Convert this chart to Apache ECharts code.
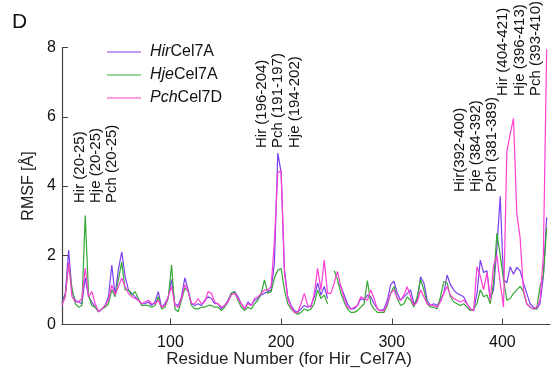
<!DOCTYPE html>
<html><head><meta charset="utf-8">
<script src="https://cdn.jsdelivr.net/npm/echarts@6/dist/echarts.min.js"></script>
<style>html,body{margin:0;padding:0;background:#fff}#c{width:552px;height:373px}</style>
</head><body><div id="c"></div>
<script>
const residues = [2,5,8,11,14,17,20,23,26,29,32,35,38,41,44,47,50,53,56,59,62,65,68,71,74,77,80,83,86,89,92,95,98,101,104,107,110,113,116,119,122,125,128,131,134,137,140,143,146,149,152,155,158,161,164,167,170,173,176,179,182,185,188,191,194,197,200,203,206,209,212,215,218,221,224,227,230,233,236,239,242,245,248,251,254,257,260,263,266,269,272,275,278,281,284,287,290,293,296,299,302,305,308,311,314,317,320,323,326,329,332,335,338,341,344,347,350,353,356,359,362,365,368,371,374,377,380,383,386,389,392,395,398,401,404,407,410,413,416,419,422,425,428,431,434,437,440];

const hirCel7A = [0.65,0.9,2.15,0.95,0.7,0.65,0.6,1.35,0.8,0.65,0.5,0.37,0.45,0.55,0.8,1.72,0.85,1.6,2.1,1.4,1.0,0.9,0.8,0.7,0.6,0.6,0.65,0.55,0.65,0.95,0.5,0.6,0.8,1.3,0.6,0.55,0.8,1.35,1.0,0.6,0.55,0.6,0.55,0.7,0.8,0.75,0.6,0.6,0.45,0.55,0.7,0.9,0.95,0.8,0.6,0.45,0.65,0.55,0.7,0.75,0.85,0.9,0.95,1.0,1.8,4.95,4.4,1.6,0.8,0.55,0.4,0.35,0.45,0.55,0.5,0.55,0.8,1.2,0.85,1.1,0.75,null,null,1.2,1.1,0.85,0.6,0.45,0.45,0.55,0.75,0.7,0.85,0.8,0.6,0.45,0.4,0.45,0.7,1.15,1.25,0.9,0.7,0.8,0.9,1.0,0.6,0.7,1.38,1.2,0.7,0.55,0.6,0.55,0.7,0.9,1.43,1.15,1.0,0.9,0.85,0.8,0.6,0.45,0.4,0.9,1.86,1.5,1.55,0.75,1.0,2.2,3.7,1.3,1.2,1.67,1.45,1.65,1.55,1.2,0.9,0.6,0.5,0.45,0.6,1.4,3.1];

const hjeCel7A = [0.6,0.85,1.75,1.05,0.6,0.5,0.55,3.15,0.85,0.55,0.5,0.37,0.45,0.5,0.6,1.0,0.8,1.3,1.8,1.0,1.0,0.85,0.95,0.75,0.55,0.55,0.55,0.5,0.55,0.8,0.45,0.5,0.75,1.72,0.45,0.37,0.7,1.05,0.95,0.55,0.45,0.45,0.5,0.5,0.55,0.55,0.5,0.5,0.4,0.5,0.65,0.9,0.95,0.7,0.5,0.4,0.5,0.45,0.6,0.7,0.9,1.29,0.9,0.95,1.35,1.57,1.62,1.0,0.6,0.45,0.35,0.3,0.35,0.45,0.4,0.45,0.6,1.0,0.75,0.85,0.6,null,1.55,1.3,0.9,0.65,0.45,0.35,0.35,0.4,0.5,0.6,1.27,0.6,0.45,0.35,0.35,0.35,0.55,0.9,1.1,0.75,0.55,0.6,0.8,0.7,0.5,0.8,1.3,1.0,0.6,0.5,0.5,0.45,0.8,1.24,1.2,0.8,0.65,0.6,0.55,0.6,0.5,0.4,0.45,0.6,1.0,0.8,0.85,0.6,1.2,2.64,2.0,1.3,0.7,0.75,0.9,1.0,1.1,0.95,0.6,0.5,0.45,0.45,1.1,1.4,2.8];

const pchCel7D = [0.55,0.8,1.8,0.8,0.65,0.65,0.75,1.63,0.8,0.95,0.6,0.37,0.45,0.55,0.7,1.14,0.85,1.1,1.34,1.1,0.9,0.8,0.75,0.7,0.6,0.65,0.7,0.6,0.6,0.7,0.5,0.55,0.8,1.1,0.55,0.5,0.75,1.15,0.95,0.6,0.6,0.75,0.6,0.65,0.95,0.9,0.65,0.6,0.5,0.55,0.65,0.85,0.9,0.75,0.6,0.45,0.6,0.55,0.75,0.8,0.9,1.0,1.0,1.1,2.44,4.38,4.45,1.5,0.75,0.5,0.35,0.35,0.6,0.9,0.55,0.5,0.9,1.62,1.0,1.86,0.9,0.9,1.2,1.53,1.1,0.75,0.5,0.45,0.5,0.55,0.8,0.75,0.7,1.0,0.75,0.45,0.4,0.4,0.6,0.9,1.0,0.75,0.7,0.85,1.09,0.8,0.55,0.65,1.0,0.8,0.6,0.55,0.55,0.5,0.65,0.9,1.1,0.85,0.75,0.7,0.65,0.7,0.6,0.45,0.4,1.67,1.4,1.0,1.5,0.7,1.7,2.0,1.2,0.5,5.0,5.5,5.95,3.2,2.5,1.0,0.6,0.5,0.45,0.5,0.7,2.0,7.95];

const xTicks = [100, 200, 300, 400];
const yTicks = [0, 2, 4, 6, 8];

const seriesNames = ['Hir', 'Hje', 'Pch'];
const seriesSuffix = ['Cel7A', 'Cel7A', 'Cel7D'];
const seriesColors = ['#7a3ff0', '#34a834', '#ff3fd4'];
const seriesValues = [hirCel7A, hjeCel7A, pchCel7D];

const annotations = [
  {x: 80, y: 203, t: 'Hir (20-25)'},
  {x: 96, y: 203, t: 'Hje (20-25)'},
  {x: 112, y: 203, t: 'Pch (20-25)'},
  {x: 262, y: 148, t: 'Hir (196-204)'},
  {x: 278, y: 148, t: 'Pch (191-197)'},
  {x: 295, y: 148, t: 'Hje (194-202)'},
  {x: 460, y: 192, t: 'Hir(392-400)'},
  {x: 476, y: 192, t: 'Hje (384-392)'},
  {x: 492, y: 192, t: 'Pch (381-389)'},
  {x: 503, y: 96, t: 'Hir (404-421)'},
  {x: 520, y: 96, t: 'Hje (396-413)'},
  {x: 536, y: 96, t: 'Pch (393-410)'}
];

const FONT = 'Liberation Sans, Arial, sans-serif';
const chart = echarts.init(document.getElementById('c'));

const series = seriesNames.map((n, i) => ({
  name: n + seriesSuffix[i],
  type: 'line',
  symbol: 'none',
  connectNulls: false,
  lineStyle: {width: 1.2, color: seriesColors[i]},
  itemStyle: {color: seriesColors[i]},
  data: residues.map((r, k) => [r, seriesValues[i][k]])
}));

const graphics = annotations.map(a => ({
  type: 'text', x: a.x, y: a.y, rotation: Math.PI / 2,
  style: {text: a.t, font: '15px ' + FONT, fill: '#111', align: 'left', verticalAlign: 'middle'}
}));
graphics.push({type: 'text', left: 12, top: 12, style: {text: 'D', font: '21px ' + FONT, fill: '#111'}});
graphics.push({type: 'text', x: 29, y: 186, rotation: Math.PI / 2,
  style: {text: 'RMSF [Å]', font: '16px ' + FONT, fill: '#222', align: 'center', verticalAlign: 'middle'}});
graphics.push({type: 'text', x: 289, y: 359,
  style: {text: 'Residue Number (for Hir_Cel7A)', font: '17px ' + FONT, fill: '#222', align: 'center', verticalAlign: 'middle'}});

chart.setOption({
  animation: false,
  backgroundColor: '#fff',
  grid: {left: 62, right: 2, top: 47.5, bottom: 48.5},
  legend: {
    orient: 'vertical', left: 102, top: 39, itemWidth: 34, itemHeight: 14, itemGap: 7,
    icon: 'path://M0,6 L34,6 L34,7.2 L0,7.2 Z',
    data: series.map(s => s.name),
    formatter: name => {
      const i = series.findIndex(s => s.name === name);
      return '{i|' + seriesNames[i] + '}{n|' + seriesSuffix[i] + '}';
    },
    textStyle: {
      padding: [0, 0, 0, 4],
      rich: {
        i: {fontStyle: 'italic', fontSize: 16, fontFamily: FONT, color: '#111'},
        n: {fontSize: 16, fontFamily: FONT, color: '#111'}
      }
    }
  },
  xAxis: {
    type: 'value', min: 2, max: 443,
    splitLine: {show: false},
    axisLine: {lineStyle: {color: '#444', width: 1.2}},
    axisTick: {inside: true, length: 6, customValues: xTicks, lineStyle: {color: '#444'}},
    axisLabel: {customValues: xTicks, fontSize: 16, fontFamily: FONT, color: '#111', margin: 10}
  },
  yAxis: {
    type: 'value', min: 0, max: 8, interval: 2,
    splitLine: {show: false},
    axisLine: {show: true, lineStyle: {color: '#444', width: 1.2}},
    axisTick: {show: true, inside: true, length: 6, lineStyle: {color: '#444'}},
    axisLabel: {fontSize: 16, fontFamily: FONT, color: '#111', margin: 6,
      formatter: v => yTicks.includes(v) ? String(v) : ''}
  },
  series: series,
  graphic: graphics
});
</script></body></html>
